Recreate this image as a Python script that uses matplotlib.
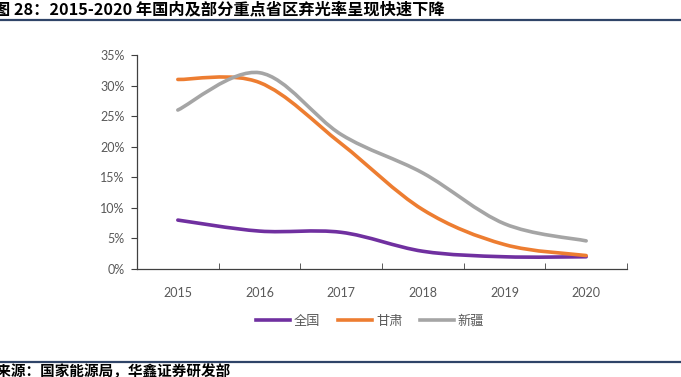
import matplotlib
matplotlib.use('Agg')
import matplotlib.pyplot as plt
from matplotlib.path import Path
from matplotlib.patches import PathPatch
from matplotlib.lines import Line2D

plt.rcParams['font.family'] = ['Noto Sans CJK SC', 'DejaVu Sans']

years = ['2015', '2016', '2017', '2018', '2019', '2020']
quanguo = [0.080, 0.062, 0.060, 0.029, 0.020, 0.020]
gansu = [0.310, 0.305, 0.205, 0.097, 0.040, 0.022]
xinjiang = [0.260, 0.321, 0.220, 0.157, 0.074, 0.046]
names = ['全国', '甘肃', '新疆']
colors = ['#7030A0', '#ED7D31', '#A5A5A5']

title = '图 28：2015-2020 年国内及部分重点省区弃光率呈现快速下降'
source = '资料来源：国家能源局，华鑫证券研发部'
gray = '#595959'


def smooth_path(xs, ys):
    # excel-like smoothed line: cubic bezier through every point
    pts = list(zip(xs, ys))
    verts = [pts[0]]
    codes = [Path.MOVETO]
    n = len(pts)
    for i in range(n - 1):
        p0 = pts[i - 1] if i > 0 else pts[i]
        p1 = pts[i]
        p2 = pts[i + 1]
        p3 = pts[i + 2] if i + 2 < n else pts[i + 1]
        c1 = (p1[0] + (p2[0] - p0[0]) / 6, p1[1] + (p2[1] - p0[1]) / 6)
        c2 = (p2[0] - (p3[0] - p1[0]) / 6, p2[1] - (p3[1] - p1[1]) / 6)
        verts += [c1, c2, p2]
        codes += [Path.CURVE4] * 3
    return Path(verts, codes)


fig = plt.figure(figsize=(6.81, 3.77), dpi=100)
ax = fig.add_axes([137 / 681, 1 - 269 / 377, 490 / 681, 214 / 377])

xs = list(range(len(years)))
for vals, c in zip([quanguo, gansu, xinjiang], colors):
    patch = PathPatch(smooth_path(xs, vals), facecolor='none', edgecolor=c,
                      lw=2.6, capstyle='round', zorder=3)
    ax.add_patch(patch)

ax.set_xlim(-0.5, len(years) - 0.5)
ax.set_ylim(0, 0.35)
ax.set_yticks([i * 0.05 for i in range(8)])
ax.set_yticklabels([f'{i * 5}%' for i in range(8)])
ax.set_xticks(xs)
ax.set_xticklabels(years)
ax.set_xticks([i - 0.5 for i in range(len(years) + 1)], minor=True)
ax.tick_params(axis='x', which='major', length=0, pad=13, labelsize=9, labelcolor=gray)
ax.tick_params(axis='x', which='minor', length=4, direction='in', color='#404040')
ax.tick_params(axis='y', length=4, color='#404040', labelsize=9, labelcolor=gray, pad=5)
for lab in ax.get_xticklabels() + ax.get_yticklabels():
    lab.set_family(['Lato', 'DejaVu Sans'])
for s in ['top', 'right']:
    ax.spines[s].set_visible(False)
for s in ['left', 'bottom']:
    ax.spines[s].set_color('#404040')
    ax.spines[s].set_linewidth(0.9)

handles = [Line2D([], [], color=c, lw=2.6) for c in colors]
fig.legend(handles, names, loc='center', bbox_to_anchor=(370 / 681, 1 - 321 / 377),
           ncol=3, frameon=False, fontsize=9.5, handlelength=2.6, handletextpad=0.3,
           columnspacing=1.3, labelcolor=gray)

# the page crop cuts the start of the caption lines, as in the original
fig.text(445 / 681, 1 - 9 / 377, title, fontsize=11.7, fontweight='bold', va='center', ha='right')
fig.text(231 / 681, 1 - 371 / 377, source, fontsize=10.5, fontweight='bold', va='center', ha='right')
fig.add_artist(Line2D([0, 1], [1 - 19.5 / 377] * 2, color='#2F4468', lw=1.6))
fig.add_artist(Line2D([0, 1], [1 - 361.5 / 377] * 2, color='#2F4468', lw=1.6))

fig.savefig('out.png', dpi=100)
